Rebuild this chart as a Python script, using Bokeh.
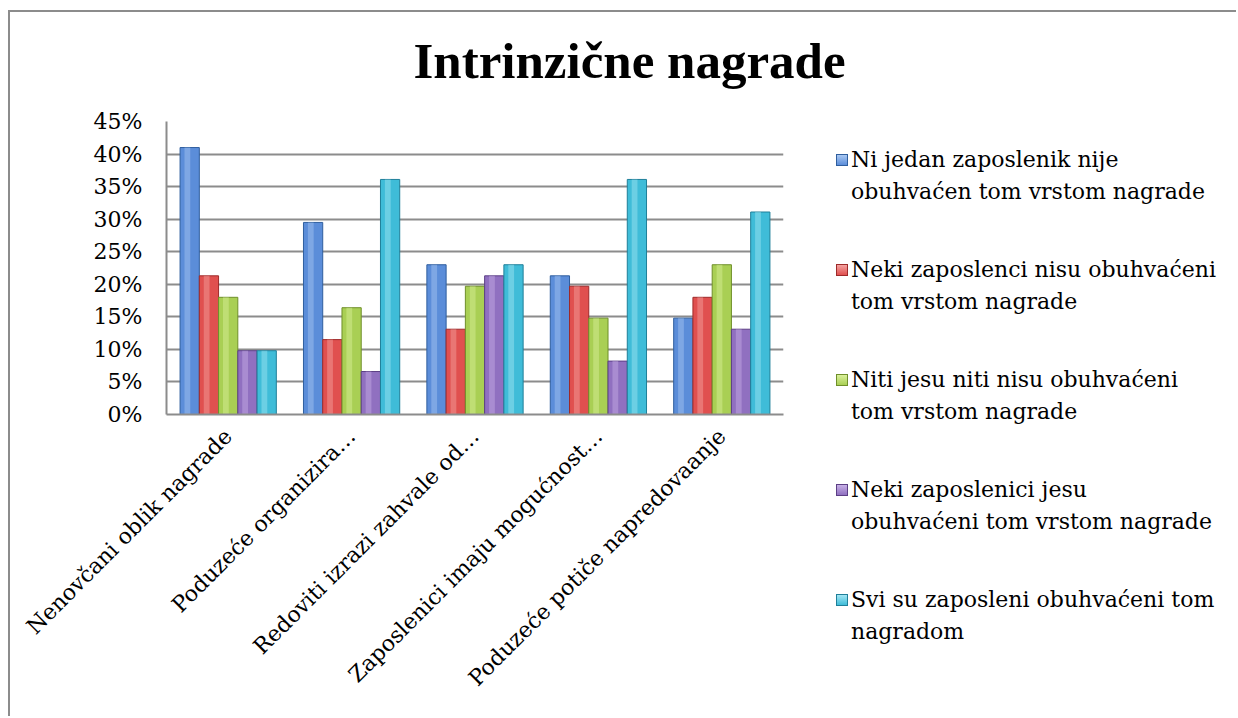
import math
from bokeh.plotting import figure
from bokeh.layouts import column, row
from bokeh.models import FixedTicker, PrintfTickFormatter, Range1d, Div
from bokeh.core.properties import value
from bokeh.embed import file_html
from bokeh.resources import INLINE

# ---------------- data ----------------
chart_title = "Intrinzične nagrade"

categories = ["Nenovčani oblik nagrade",
              "Poduzeće organizira…",
              "Redoviti izrazi zahvale od…",
              "Zaposlenici imaju mogućnost…",
              "Poduzeće potiče napredovaanje"]

series_names = [["Ni jedan zaposlenik nije", "obuhvaćen tom vrstom nagrade"],
                ["Neki zaposlenci nisu obuhvaćeni", "tom vrstom nagrade"],
                ["Niti jesu niti nisu obuhvaćeni", "tom vrstom nagrade"],
                ["Neki zaposlenici jesu", "obuhvaćeni tom vrstom nagrade"],
                ["Svi su zaposleni obuhvaćeni tom", "nagradom"]]

ni_jedan = [41.0, 29.5, 23.0, 21.3, 14.8]
neki_nisu = [21.3, 11.5, 13.1, 19.7, 18.0]
niti_niti = [18.0, 16.4, 19.7, 14.8, 23.0]
neki_jesu = [9.8, 6.6, 21.3, 8.2, 13.1]
svi = [9.8, 36.1, 23.0, 36.1, 31.1]

y_ticks = [0, 5, 10, 15, 20, 25, 30, 35, 40, 45]

series_values = [ni_jedan, neki_nisu, niti_niti, neki_jesu, svi]

# ---------------- style ----------------
fill_colors = ["#5B8DD9", "#E0504F", "#A9CF54", "#9070C0", "#3FBCD8"]
light_colors = ["#A9C8F2", "#F4A3A1", "#DAF09B", "#C7B0E6", "#A3E6F4"]
line_colors = ["#2F5E9E", "#9E2A2A", "#6F8F2A", "#5C3F85", "#1F7F99"]
grid_color = "#8C8C8C"
serif = "DejaVu Serif"
bar_w = 0.156

TOTAL_W = 1216
TITLE_H = 92
BODY_H = 602
CHART_W = 820
LEGEND_W = TOTAL_W - CHART_W

# ---- title strip ----
tf = figure(width=TOTAL_W, height=TITLE_H, output_backend="svg", toolbar_location=None,
            x_range=Range1d(0, TOTAL_W), y_range=Range1d(0, TITLE_H),
            x_axis_location=None, y_axis_location=None, min_border=0, title=None)
tf.outline_line_color = None
tf.grid.visible = False
tf.text(x=[403], y=[44], text=[chart_title], text_font=value("Liberation Serif"),
        text_font_style="bold", text_font_size="51px", text_color="black",
        text_align="left", text_baseline="alphabetic")

# ---- chart ----
p = figure(width=CHART_W, height=BODY_H, output_backend="svg", toolbar_location=None,
           x_range=Range1d(0, 5), y_range=Range1d(0, 45),
           min_border_left=156, min_border_right=47,
           min_border_top=17, min_border_bottom=292)
p.outline_line_color = None

for k, vals in enumerate(series_values):
    xs = [i + 0.5 + (k - 2) * bar_w for i in range(len(categories))]
    p.vbar(x=xs, top=vals, width=bar_w, bottom=0,
           fill_color=fill_colors[k], line_color=line_colors[k], line_width=1)
    # glossy highlight strip (same data) for the bevelled look
    hx = [x - 0.12 * bar_w for x in xs]
    p.vbar(x=hx, top=vals, width=0.3 * bar_w, bottom=0,
           fill_color=light_colors[k], fill_alpha=0.45, line_color=None)

p.yaxis.ticker = FixedTicker(ticks=y_ticks)
p.yaxis.formatter = PrintfTickFormatter(format="%d%%")
p.yaxis.major_label_text_font = serif
p.yaxis.major_label_text_font_size = "22px"
p.yaxis.major_label_text_color = "black"
p.yaxis.axis_line_color = grid_color
p.yaxis.axis_line_width = 2
p.yaxis.major_tick_line_color = None
p.yaxis.minor_tick_line_color = None
p.yaxis.major_label_standoff = 18

p.ygrid.ticker = FixedTicker(ticks=y_ticks)
p.ygrid.grid_line_color = grid_color
p.ygrid.grid_line_width = 2
p.xgrid.grid_line_color = None

cat_ticks = [i + 0.5 for i in range(len(categories))]
p.xaxis.ticker = FixedTicker(ticks=cat_ticks)
p.xaxis.major_label_overrides = {t: c for t, c in zip(cat_ticks, categories)}
p.xaxis.major_label_orientation = math.pi / 4
p.xaxis.major_label_text_font = serif
p.xaxis.major_label_text_font_size = "22px"
p.xaxis.major_label_text_color = "black"
p.xaxis.major_label_standoff = 12
p.xaxis.axis_line_color = grid_color
p.xaxis.axis_line_width = 2
p.xaxis.major_tick_line_color = None
p.xaxis.minor_tick_line_color = None

# ---- legend panel (HTML) ----
parts = ['<div style="position:relative;width:%dpx;height:%dpx;">' % (LEGEND_W, BODY_H)]
for k, (line1, line2) in enumerate(series_names):
    top = 35 + 110 * k
    parts.append(
        '<div style="position:absolute;left:1px;top:%dpx;">'
        '<span style="position:absolute;left:0;top:10px;width:12px;height:12px;'
        'box-sizing:border-box;background:linear-gradient(%s,%s);border:1px solid %s;"></span>'
        '<div style="position:absolute;left:15px;top:0;white-space:nowrap;'
        'font-family:\'DejaVu Serif\';font-size:22px;line-height:32px;color:#000;">'
        '%s<br>%s</div></div>' % (top, light_colors[k], fill_colors[k], line_colors[k],
                                  line1, line2))
parts.append('</div>')
legend_div = Div(text="".join(parts), width=LEGEND_W, height=BODY_H)

layout = column(tf, row(p, legend_div))
layout.styles = {"margin-top": "10px", "margin-left": "8px",
                 "border-left": "2px solid #8C8C8C", "border-top": "2px solid #8C8C8C"}

open("out.html", "w").write(file_html(layout, INLINE))
